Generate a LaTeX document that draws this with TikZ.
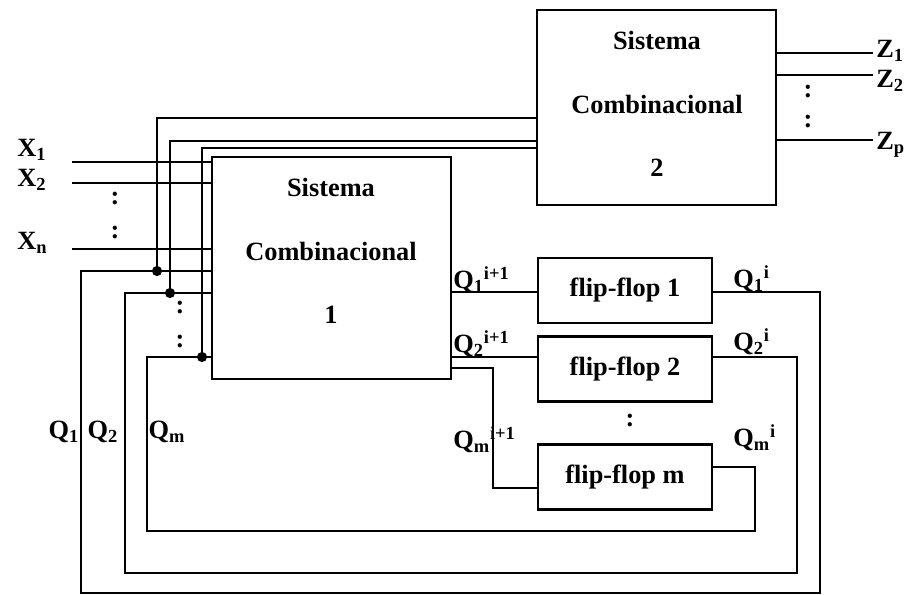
\documentclass[tikz,border=0pt]{standalone}
\usepackage{fontspec}
\setmainfont{Liberation Serif}

\tikzset{
 bloco/.style={draw, line width=1.2pt, inner sep=0pt},
 ffbox/.style={minimum width=3.48cm, minimum height=1.3cm},
 fio/.style={line width=1.1pt},
 rot/.style={font=\fontsize{15}{18}\selectfont\bfseries, inner sep=0pt},
 txt/.style={font=\fontsize{15}{18}\selectfont\bfseries, align=center, inner sep=0pt},
}

\begin{document}
\begin{tikzpicture}[x=0.02cm, y=-0.02cm]
\useasboundingbox (0,0) rectangle (914,595);

%%%%%blocos combinacionais
\node[bloco, minimum width=4.78cm, minimum height=4.44cm] (c1) at (331.5,268) {};
\node[bloco, minimum width=4.78cm, minimum height=3.9cm] (c2) at (656.5,107.5) {};
\node[txt] (c1t) at (331,251) {Sistema\\[18pt]Combinacional\\[18pt]1};
\node[txt] (c2t) at (657,104) {Sistema\\[18pt]Combinacional\\[18pt]2};

%%%%%flip-flops
\node[bloco, ffbox, rot] (ff1) at (625,290.5) {flip-flop 1};
\node[bloco, ffbox, rot] (ff2) at (625,369) {flip-flop 2};
\node[bloco, ffbox, rot] (ffm) at (625,477) {flip-flop m};

%%%%%entradas e saidas
\foreach \nome/\y/\ly/\sub in {x1/162/150/1, x2/183/180/2, xn/249/243/n}
{
 \node[rot, anchor=west] (l\nome) at (17,\ly) {X\textsubscript{\sub}};
 \coordinate (\nome) at (72,\y);
 \draw[fio] (\nome) -- (\nome -| c1.west);
}
\foreach \nome/\y/\ly/\sub in {z1/53/51/1, z2/75/81/2, zp/140/145/p}
{
 \coordinate (\nome) at (873,\y);
 \node[rot, anchor=west] (l\nome) at (876,\ly) {Z\textsubscript{\sub}};
 \draw[fio] (c2.east |- \nome) -- (\nome);
}

%%%%%realimentacao
\coordinate (q1c) at (820,292); \coordinate (q1d) at (81,593); \coordinate (q1e) at (81,271);
\coordinate (q2c) at (797,357); \coordinate (q2d) at (125,573); \coordinate (q2e) at (125,293);
\coordinate (qmc) at (755,467); \coordinate (qmd) at (147,531); \coordinate (qme) at (147,357);
\coordinate (qmn) at (493,368); \coordinate (qmi) at (493,488);

\draw[fio] (ff1.east |- q1c) -- (q1c) |- (q1d) -- (q1e) -- (q1e -| c1.west);
\draw[fio] (ff2.east |- q2c) -- (q2c) |- (q2d) -- (q2e) -- (q2e -| c1.west);
\draw[fio] (ffm.east |- qmc) -- (qmc) |- (qmd) -- (qme) -- (qme -| c1.west);

\draw[fio] (c1.east |- q1c) -- (q1c -| ff1.west);
\draw[fio] (c1.east |- q2c) -- (q2c -| ff2.west);
\draw[fio] (c1.east |- qmn) -- (qmn) -- (qmi) -- (qmi -| ffm.west);

\foreach \q/\x/\yb/\yt in {q1/157/271/118, q2/170/293/141, qm/202/357/148}
{
 \coordinate (\q t) at (\x,\yb);
 \coordinate (\q u) at (\x,\yt);
 \draw[fio] (\q t) -- (\q u) -- (\q u -| c2.west);
 \fill (\q t) circle (2.9pt);
}

%%%%%rotulos
\node[rot] (lq1) at (64,432) {Q\textsubscript{1}};
\node[rot] (lq2) at (103,432) {Q\textsubscript{2}};
\node[rot] (lqm) at (167,432) {Q\textsubscript{m}};
\node[rot, anchor=west] (lq1n) at (453,280) {Q\textsubscript{1}\textsuperscript{i+1}};
\node[rot, anchor=west] (lq2n) at (453,344) {Q\textsubscript{2}\textsuperscript{i+1}};
\node[rot, anchor=west] (lqmn) at (453,440) {Q\textsubscript{m}\textsuperscript{i+1}};
\node[rot, anchor=west] (lq1i) at (733,279) {Q\textsubscript{1}\textsuperscript{i}};
\node[rot, anchor=west] (lq2i) at (733,342) {Q\textsubscript{2}\textsuperscript{i}};
\node[rot, anchor=west] (lqmi) at (733,438) {Q\textsubscript{m}\textsuperscript{i}};

\foreach \x/\y [count=\i] in {115/199, 115/233, 180/308, 180/342, 630/421, 808/92, 808/122}
 \node[txt] (pts\i) at (\x,\y) {:};
\end{tikzpicture}
\end{document}
